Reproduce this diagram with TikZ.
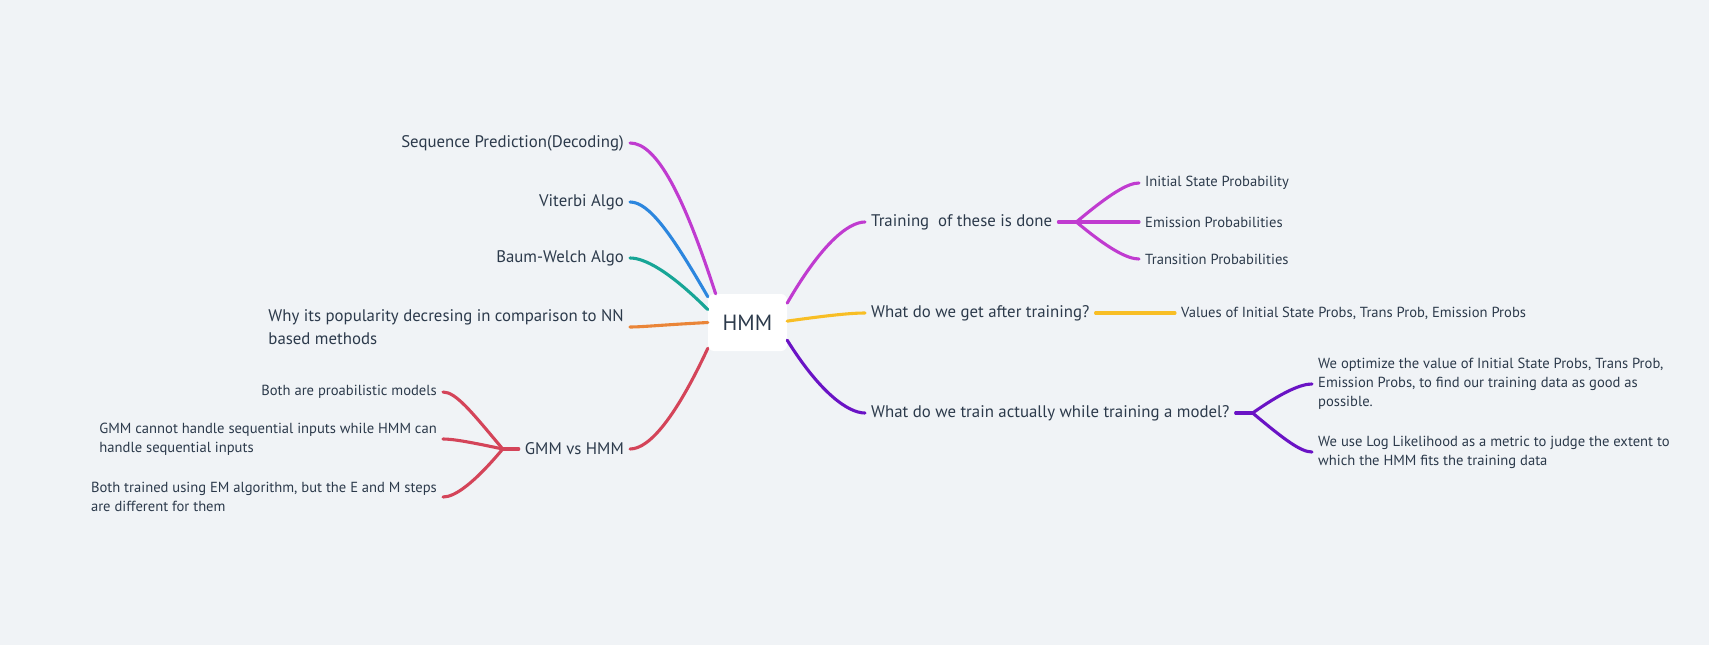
\documentclass[tikz,border=0pt]{standalone}
\usepackage{fontspec}
\setmainfont{PT Sans}
\usetikzlibrary{positioning}

\definecolor{paper}{HTML}{F0F3F6}
\definecolor{ink}{HTML}{2C3A4B}
\definecolor{cMag}{HTML}{C03BD0}
\definecolor{cBlue}{HTML}{2C86DE}
\definecolor{cTeal}{HTML}{17A596}
\definecolor{cOrange}{HTML}{EA8538}
\definecolor{cRed}{HTML}{D44459}
\definecolor{cYellow}{HTML}{F8BE25}
\definecolor{cPurple}{HTML}{6A13C5}

\begin{document}
\begin{tikzpicture}[x=1pt,y=1pt,
    root/.style={fill=white,rounded corners=6pt,minimum width=79pt,
                 minimum height=57pt,text=ink,font=\fontsize{22}{26}\selectfont},
    topic/.style={inner xsep=6pt,inner ysep=2pt,text=ink,align=left,
                  font=\fontsize{16.8}{22.5}\selectfont},
    leaf/.style={inner xsep=6pt,inner ysep=2pt,text=ink,align=left,
                 font=\fontsize{14.6}{19}\selectfont},
    branch/.style={line width=3.1pt,line cap=round},
    sweep/.style 2 args={out=#1,in=#2,out looseness=1.5,in looseness=0.4}]

  \fill[paper] (0,0) rectangle (1709,-645);

  \node[root] (hmm) at (747.5,-322.5) {HMM};

  % left side
  \node[topic,anchor=east] (seq)  at (630,-143) {Sequence Prediction(Decoding)};
  \node[topic,anchor=east] (vit)  at (630,-202) {Viterbi Algo};
  \node[topic,anchor=east] (baum) at (630,-258) {Baum-Welch Algo};
  \node[topic,anchor=east] (why)  at (630,-327) {Why its popularity decresing in comparison to NN\\based methods};
  \node[topic,anchor=east] (gmm)  at (630,-449) {GMM vs HMM};

  \coordinate[left=16pt of gmm.west] (gj);
  \node[leaf,anchor=east] (prob)  at (443,-392) {Both are proabilistic models};
  \node[leaf,anchor=east] (seqin) at (443,-439) {GMM cannot handle sequential inputs while HMM can\\handle sequential inputs};
  \node[leaf,anchor=east] (em)    at (443,-497) {Both trained using EM algorithm, but the E and M steps\\are different for them};

  % right side
  \node[topic,anchor=west] (train) at (865,-222) {Training\ \ of these is done};
  \node[topic,anchor=west] (get)   at (865,-313) {What do we get after training?};
  \node[topic,anchor=west] (act)   at (865,-413) {What do we train actually while training a model?};

  \coordinate[right=18pt of train.east] (tj);
  \node[leaf,anchor=west] (init)  at (1139,-183) {Initial State Probability};
  \node[leaf,anchor=west] (emis)  at (1139,-222) {Emission Probabilities};
  \node[leaf,anchor=west] (trans) at (1139,-259) {Transition Probabilities};

  \node[leaf,anchor=west] (vals) at (1175,-313) {Values of Initial State Probs, Trans Prob, Emission Probs};

  \coordinate[right=17pt of act.east] (aj);
  \node[leaf,anchor=west] (opt)    at (1312,-384) {We optimize the value of Initial State Probs, Trans Prob,\\Emission Probs, to find our training data as good as\\possible.};
  \node[leaf,anchor=west] (loglik) at (1312,-452) {We use Log Likelihood as a metric to judge the extent to\\which the HMM fits the training data};

  % connectors from the root
  \path[branch]
    (hmm.138) edge[cMag,sweep={108}{0}]      (seq.east)
    (hmm.147) edge[cBlue,sweep={120}{0}]     (vit.east)
    (hmm.162) edge[cTeal,sweep={135}{0}]     (baum.east)
    (hmm.180) edge[cOrange,sweep={183}{0}]   (why.east)
    (hmm.213) edge[cRed,sweep={245}{0}]      (gmm.east)
    (hmm.26)  edge[cMag,sweep={60}{180}]     (train.west)
    (hmm.2)   edge[cYellow,sweep={8}{180}]   (get.west)
    (hmm.336) edge[cPurple,sweep={-58}{180}] (act.west);

  % sub branches
  \path[branch,cMag]
    (train.east) edge (tj)
    (tj) edge[sweep={40}{180}]  (init.west)
    (tj) edge                   (emis.west)
    (tj) edge[sweep={-40}{180}] (trans.west);
  \path[branch,cYellow] (get.east) edge (vals.west);
  \path[branch,cPurple]
    (act.east) edge (aj)
    (aj) edge[sweep={35}{180}]  (opt.west)
    (aj) edge[sweep={-40}{180}] (loglik.west);
  \path[branch,cRed]
    (gmm.west) edge (gj)
    (gj) edge[sweep={130}{0}]  (prob.east)
    (gj) edge[sweep={168}{0}]  (seqin.east)
    (gj) edge[sweep={230}{0}]  (em.east);
\end{tikzpicture}
\end{document}
